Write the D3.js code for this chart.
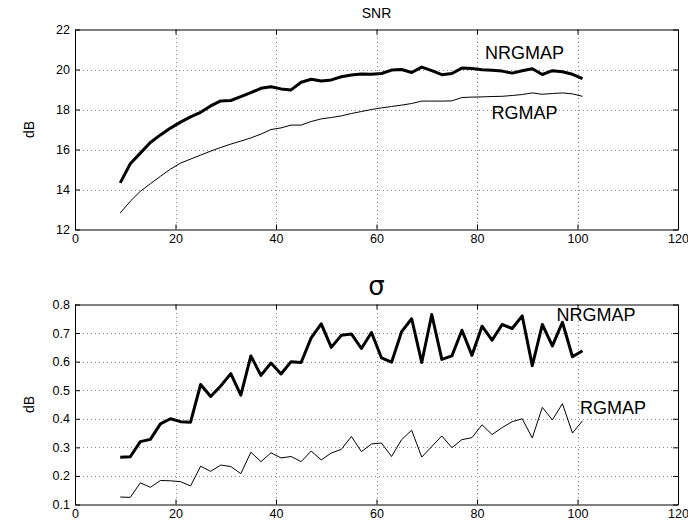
<!DOCTYPE html>
<html>
<head>
<meta charset="utf-8">
<script src="https://cdn.jsdelivr.net/npm/d3@7"></script>
<style>
  body { margin: 0; background: #fff; }
  svg { display: block; font-family: "Liberation Sans", Arial, sans-serif; }
  .grid line { stroke: #888; stroke-width: 1; stroke-dasharray: 1,3; shape-rendering: crispEdges; }
  .tick-label { font-size: 12.5px; fill: #000; }
</style>
</head>
<body>
<div id="chart"></div>
<script>
'use strict';

// window sizes used in the simulation
var windowSizes = [9, 11, 13, 15, 17, 19, 21, 23, 25, 27, 29, 31, 33, 35, 37, 39, 41, 43, 45, 47,
    49, 51, 53, 55, 57, 59, 61, 63, 65, 67, 69, 71, 73, 75, 77, 79, 81, 83, 85, 87,
    89, 91, 93, 95, 97, 99, 101];

var snrNrgmap = [14.33, 15.29, 15.82, 16.35, 16.73, 17.07, 17.37, 17.63, 17.86, 18.18,
    18.43, 18.45, 18.64, 18.84, 19.06, 19.14, 19.03, 18.98, 19.36, 19.51,
    19.43, 19.48, 19.64, 19.72, 19.77, 19.76, 19.80, 19.97, 20.00, 19.85,
    20.12, 19.94, 19.74, 19.80, 20.07, 20.05, 19.99, 19.96, 19.92, 19.82,
    19.94, 20.04, 19.75, 19.94, 19.89, 19.76, 19.54];

var snrRgmap = [12.83, 13.41, 13.91, 14.29, 14.66, 15.02, 15.32, 15.52, 15.72, 15.92,
    16.10, 16.27, 16.42, 16.58, 16.77, 17.00, 17.08, 17.22, 17.22, 17.40,
    17.53, 17.60, 17.68, 17.80, 17.90, 18.00, 18.08, 18.15, 18.22, 18.30,
    18.42, 18.42, 18.42, 18.43, 18.60, 18.62, 18.63, 18.65, 18.66, 18.70,
    18.75, 18.83, 18.76, 18.80, 18.83, 18.78, 18.66];

var sigmaNrgmap = [0.265, 0.267, 0.320, 0.328, 0.382, 0.400, 0.390, 0.388, 0.520, 0.478,
    0.515, 0.558, 0.483, 0.620, 0.552, 0.595, 0.557, 0.600, 0.597, 0.683,
    0.732, 0.650, 0.692, 0.697, 0.646, 0.702, 0.613, 0.598, 0.705, 0.750,
    0.597, 0.765, 0.608, 0.620, 0.710, 0.622, 0.724, 0.675, 0.730, 0.716,
    0.760, 0.586, 0.730, 0.655, 0.738, 0.617, 0.638];

var sigmaRgmap = [0.126, 0.125, 0.176, 0.160, 0.184, 0.183, 0.180, 0.165, 0.234, 0.216,
    0.238, 0.233, 0.208, 0.283, 0.250, 0.281, 0.263, 0.268, 0.250, 0.287,
    0.256, 0.280, 0.293, 0.338, 0.285, 0.312, 0.315, 0.268, 0.327, 0.360,
    0.266, 0.303, 0.340, 0.299, 0.327, 0.334, 0.379, 0.345, 0.369, 0.390,
    0.400, 0.333, 0.440, 0.396, 0.453, 0.350, 0.393];

var xTicks = [0, 20, 40, 60, 80, 100, 120];
var snrTicks = [12, 14, 16, 18, 20, 22];
var sigmaTicks = [0.1, 0.2, 0.3, 0.4, 0.5, 0.6, 0.7, 0.8];

var width = 688, height = 527;

var svg = d3.select('#chart').append('svg')
    .attr('width', width)
    .attr('height', height);

function drawPanel(opts) {
    var left = 75, right = 678;
    var x = d3.scaleLinear().domain([0, 120]).range([left, right]);
    var y = d3.scaleLinear().domain(opts.yDomain).range([opts.bottom, opts.top]);
    var g = svg.append('g');

    // dotted grid
    var grid = g.append('g').attr('class', 'grid');
    grid.selectAll('line.gx')
        .data(xTicks.slice(1, -1))
        .enter().append('line')
        .attr('x1', function(d) { return Math.round(x(d)) + 0.5; })
        .attr('x2', function(d) { return Math.round(x(d)) + 0.5; })
        .attr('y1', opts.top)
        .attr('y2', opts.bottom);
    grid.selectAll('line.gy')
        .data(opts.yTicks.slice(1, -1))
        .enter().append('line')
        .attr('y1', function(d) { return Math.round(y(d)) + 0.5; })
        .attr('y2', function(d) { return Math.round(y(d)) + 0.5; })
        .attr('x1', left)
        .attr('x2', right);

    // axes, matlab style: inward ticks on all four sides
    var tickLen = 5;
    var axB = g.append('g').attr('transform', 'translate(0,' + opts.bottom + ')')
        .call(d3.axisBottom(x).tickValues(xTicks).tickSizeInner(-tickLen).tickSizeOuter(0).tickPadding(5));
    var axT = g.append('g').attr('transform', 'translate(0,' + opts.top + ')')
        .call(d3.axisTop(x).tickValues(xTicks).tickSizeInner(-tickLen).tickSizeOuter(0).tickFormat(''));
    var axL = g.append('g').attr('transform', 'translate(' + left + ',0)')
        .call(d3.axisLeft(y).tickValues(opts.yTicks).tickSizeInner(-tickLen).tickSizeOuter(0)
            .tickPadding(5).tickFormat(opts.yFormat));
    var axR = g.append('g').attr('transform', 'translate(' + right + ',0)')
        .call(d3.axisRight(y).tickValues(opts.yTicks).tickSizeInner(-tickLen).tickSizeOuter(0).tickFormat(''));

    [axB, axT, axL, axR].forEach(function(a) {
        a.select('.domain').attr('stroke', '#000');
        a.selectAll('.tick line').attr('stroke', '#000');
        a.selectAll('.tick text')
            .attr('class', 'tick-label')
            .attr('font-family', null)
            .attr('font-size', null);
    });

    // the series
    var line = d3.line()
        .x(function(d) { return x(d[0]); })
        .y(function(d) { return y(d[1]); });

    opts.series.forEach(function(s) {
        g.append('path')
            .datum(windowSizes.map(function(w, i) { return [w, s.values[i]]; }))
            .attr('fill', 'none')
            .attr('stroke', '#000')
            .attr('stroke-width', s.width)
            .attr('stroke-linejoin', 'round')
            .attr('d', line);
        g.append('text')
            .attr('x', x(s.labelAt[0]))
            .attr('y', y(s.labelAt[1]))
            .attr('font-size', 18)
            .text(s.name);
    });

    // title
    g.append('text')
        .attr('x', (left + right) / 2)
        .attr('y', opts.titleY)
        .attr('text-anchor', 'middle')
        .attr('font-size', opts.titleSize)
        .attr('font-family', opts.titleFont)
        .text(opts.title);

    // y label
    g.append('text')
        .attr('transform', 'translate(34,' + ((opts.top + opts.bottom) / 2) + ') rotate(-90)')
        .attr('text-anchor', 'middle')
        .attr('font-size', 14)
        .text('dB');
}

drawPanel({
    top: 29.5, bottom: 229.5,
    yDomain: [12, 22], yTicks: snrTicks, yFormat: d3.format('d'),
    title: 'SNR', titleY: 18, titleSize: 14, titleFont: null,
    series: [
        {name: 'NRGMAP', values: snrNrgmap, width: 3, labelAt: [81.6, 20.55]},
        {name: 'RGMAP', values: snrRgmap, width: 1, labelAt: [82.9, 17.55]}
    ]
});

drawPanel({
    top: 304.5, bottom: 504.5,
    yDomain: [0.1, 0.8], yTicks: sigmaTicks, yFormat: d3.format('.1f'),
    title: 'σ', titleY: 295, titleSize: 26, titleFont: '"DejaVu Sans", sans-serif',
    series: [
        {name: 'NRGMAP', values: sigmaNrgmap, width: 3, labelAt: [95.8, 0.743]},
        {name: 'RGMAP', values: sigmaRgmap, width: 1, labelAt: [100.5, 0.418]}
    ]
});
</script>
</body>
</html>
